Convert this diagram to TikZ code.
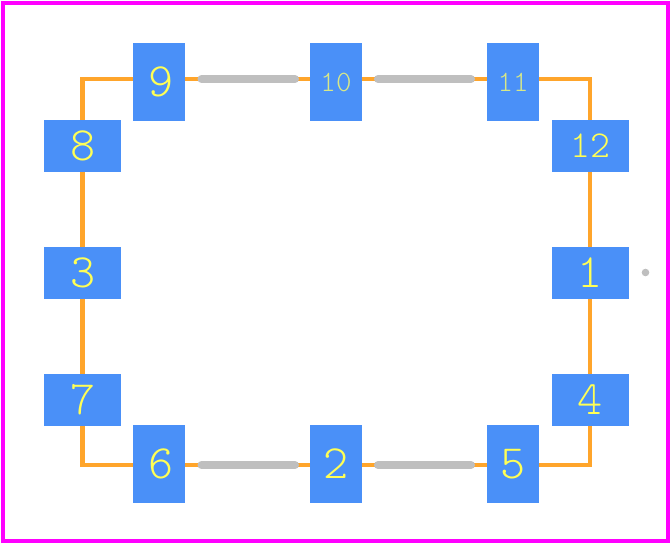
\documentclass[tikz,border=0pt]{standalone}
\definecolor{padblue}{HTML}{4A90F8}
\definecolor{padtext}{HTML}{FFFF55}
\definecolor{padsmall}{HTML}{D8E888}
\definecolor{traceorange}{HTML}{FFA52B}
\definecolor{silkgrey}{HTML}{BFBFBF}
\definecolor{outlinepink}{HTML}{FF00FF}
\tikzset{
    padwide/.style={fill=padblue, inner sep=0pt, minimum width=1.925cm, minimum height=1.3cm, text=padtext, font=\ttfamily\fontseries{l}\fontsize{34}{34}\selectfont},
    padtall/.style={padwide, minimum width=1.3cm, minimum height=1.95cm},
    padsm/.style={text=padsmall, font=\ttfamily\fontseries{l}\fontsize{21}{21}\selectfont},
    padmid/.style={font=\ttfamily\fontseries{l}\fontsize{27}{27}\selectfont},
    padnudge/.style={execute at begin node={\kern #1}},
    trace/.style={draw=traceorange, line width=3.1pt},
    silk/.style={draw=silkgrey, line width=5.7pt, line cap=round}
}
\begin{document}
\begin{tikzpicture}[x=0.025cm, y=-0.025cm]
    \useasboundingbox (0,0) rectangle (672,545);
    \draw [outlinepink, line width=3.1pt] (3,3) rectangle (668,541);
    % trace corners
    \coordinate (tl) at (82.5,79);
    \coordinate (tr) at (590,79);
    \coordinate (bl) at (82.5,465);
    \coordinate (br) at (590,465);
    % traces go under the pads
    \coordinate (p8) at (82.5,146);
    \coordinate (p3) at (82.5,273);
    \coordinate (p7) at (82.5,400);
    \coordinate (p12) at (590,146);
    \coordinate (p1) at (590,273);
    \coordinate (p4) at (590,400);
    \coordinate (p9) at (159,79);
    \coordinate (p10) at (336,79);
    \coordinate (p11) at (513,79);
    \coordinate (p6) at (159,465);
    \coordinate (p2) at (336,465);
    \coordinate (p5) at (513,465);
    \draw [trace] (p9) -- (p10) -- (p11) -- (tr) -- (p12) -- (p1) -- (p4) -- (br) -- (p5) -- (p2) -- (p6) -- (bl) -- (p7) -- (p3) -- (p8) -- (tl) -- cycle;
    % pads
    \node [padwide, padnudge=1.4pt] (pad8) at (82.5,146) {8};
    \node [padwide, padnudge=1.4pt] (pad3) at (82.5,273) {3};
    \node [padwide, padnudge=1.4pt] (pad7) at (82.5,400) {7};
    \node [padwide, padmid] (pad12) at (590.5,146) {12};
    \node [padwide] (pad1) at (590.5,273) {1};
    \node [padwide] (pad4) at (590.5,400) {4};
    \node [padtall, padnudge=3.5pt] (pad9) at (159,82) {9};
    \node [padtall, padsm] (pad10) at (336,82) {10};
    \node [padtall, padsm] (pad11) at (513,82) {11};
    \node [padtall, padnudge=3.5pt] (pad6) at (159,464) {6};
    \node [padtall] (pad2) at (336,464) {2};
    \node [padtall] (pad5) at (513,464) {5};
    % silk segments
    \coordinate (s1a) at (201.5,79);
    \coordinate (s1b) at (295,79);
    \coordinate (s2a) at (378,79);
    \coordinate (s2b) at (471,79);
    \coordinate (s3a) at (201.5,465);
    \coordinate (s3b) at (295,465);
    \coordinate (s4a) at (378,465);
    \coordinate (s4b) at (471,465);
    \draw [silk] (s1a) -- (s1b);
    \draw [silk] (s2a) -- (s2b);
    \draw [silk] (s3a) -- (s3b);
    \draw [silk] (s4a) -- (s4b);
    \fill [silkgrey] (645.5,272.5) circle (3.8);
\end{tikzpicture}
\end{document}
